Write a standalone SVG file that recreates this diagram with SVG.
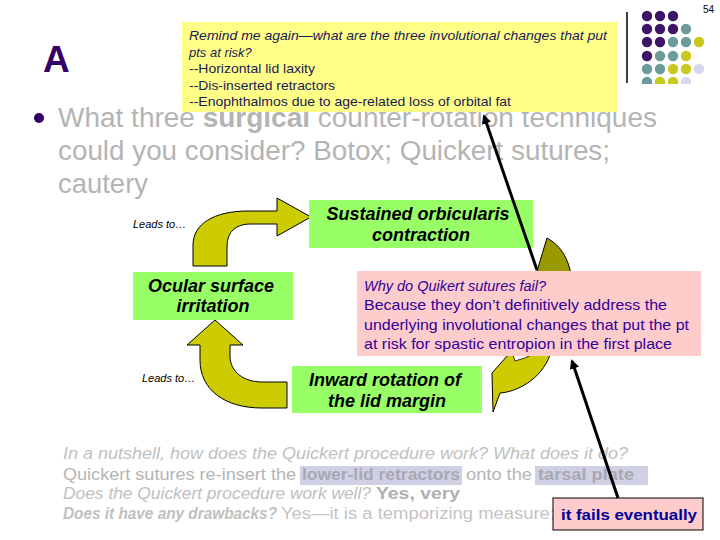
<svg xmlns="http://www.w3.org/2000/svg" width="720" height="540" viewBox="0 0 720 540">
<defs>
<style>
text{font-family:"Liberation Sans",Arial,sans-serif}
.gray{fill:#b4b4b4}
.yl{font-size:13px;fill:#1a1a55}
.pk{font-size:14.5px;fill:#330099}
.gn{font-size:18px;font-weight:bold;font-style:italic;fill:#000;text-anchor:middle}
.gbox{fill:#99ff66}
.olive{fill:#cccc00;stroke:#000;stroke-width:1}
.lead{font-size:11px;font-style:italic;fill:#000}
.bt{font-size:16px}
.conn{stroke:#000;stroke-width:3;fill:none;marker-end:url(#ah)}
</style>
<marker id="ah" viewBox="0 0 10 10" refX="8" refY="5" markerWidth="3.2" markerHeight="3.2" orient="auto">
<path d="M0,0 L10,5 L0,10 Z" fill="#000"/>
</marker>
<clipPath id="dotclip"><rect x="630" y="0" width="90" height="84"/></clipPath>
</defs>
<rect width="720" height="540" fill="#fff"/>

<g id="header">
<text x="43" y="72" font-size="37" font-weight="bold" fill="#330066">A</text>
<line x1="627" y1="12" x2="627" y2="83" stroke="#000" stroke-width="1.5"/>
<text x="703" y="13" font-size="10" fill="#000">54</text>
<g clip-path="url(#dotclip)">
<g fill="#3d1466">
<circle cx="647" cy="16" r="5.2"/><circle cx="660" cy="16" r="5.2"/><circle cx="673" cy="16" r="5.2"/>
<circle cx="647" cy="29" r="5.2"/><circle cx="660" cy="29" r="5.2"/><circle cx="673" cy="29" r="5.2"/>
<circle cx="647" cy="42" r="5.2"/><circle cx="660" cy="42" r="5.2"/>
<circle cx="647" cy="56" r="5.2"/>
</g>
<g fill="#6b9b9b">
<circle cx="686" cy="29" r="5.2"/>
<circle cx="673" cy="42" r="5.2"/><circle cx="686" cy="42" r="5.2"/>
<circle cx="660" cy="56" r="5.2"/><circle cx="673" cy="56" r="5.2"/>
<circle cx="647" cy="69" r="5.2"/><circle cx="660" cy="69" r="5.2"/>
<circle cx="647" cy="82" r="5.2"/>
</g>
<g fill="#c8c81e">
<circle cx="699" cy="42" r="5.2"/>
<circle cx="686" cy="56" r="5.2"/>
<circle cx="673" cy="69" r="5.2"/><circle cx="686" cy="69" r="5.2"/>
<circle cx="660" cy="82" r="5.2"/><circle cx="673" cy="82" r="5.2"/>
</g>
<g fill="#d8d8ec">
<circle cx="699" cy="69" r="5.2"/>
<circle cx="686" cy="82" r="5.2"/>
</g>
</g>
</g>

<g id="bullet">
<circle cx="39" cy="118" r="5" fill="#330066"/>
<text class="gray" font-size="27" x="58" y="127" textLength="599" lengthAdjust="spacingAndGlyphs">What three <tspan font-weight="bold">surgical</tspan> counter-rotation techniques</text>
<text class="gray" font-size="27" x="58" y="160" textLength="552" lengthAdjust="spacingAndGlyphs">could you consider? Botox; Quickert sutures;</text>
<text class="gray" font-size="27" x="58" y="193" textLength="90" lengthAdjust="spacingAndGlyphs">cautery</text>
</g>

<g id="note-yellow">
<rect x="182" y="22" width="436" height="90" fill="#ffff88"/>
<text class="yl" x="189" y="40" font-style="italic" textLength="418" lengthAdjust="spacingAndGlyphs">Remind me again—what are the three involutional changes that put</text>
<text class="yl" x="189" y="57" font-style="italic">pts at risk?</text>
<text class="yl" x="189" y="73" textLength="126" lengthAdjust="spacingAndGlyphs">--Horizontal lid laxity</text>
<text class="yl" x="189" y="90" textLength="146" lengthAdjust="spacingAndGlyphs">--Dis-inserted retractors</text>
<text class="yl" x="189" y="106" textLength="322" lengthAdjust="spacingAndGlyphs">--Enophthalmos due to age-related loss of orbital fat</text>
</g>

<g id="arrow-up-right">
<path class="olive" d="M193,266 L193,245 C193,224 214,211 248,211 L277,211 L277,198 L311,217 L277,236 L277,224 L250,224 C237,224 227,231 227,246 L227,266 Z"/>
<text class="lead" x="133" y="228">Leads to…</text>
</g>

<g id="arrow-up-left">
<path class="olive" d="M287,382 L262,382 C244,382 230,372 230,356 L230,345 L243,345 L215,320 L187,345 L200,345 L200,360 C200,390 225,408 262,408 L287,408 Z"/>
<text class="lead" x="142" y="382">Leads to…</text>
</g>

<g id="arrow-curved-right">
<path d="M537,290 L537,271 L547,238 C561,246 571,259 573,290 Z" fill="#999900" stroke="#000" stroke-width="1"/>
<path class="olive" d="M510,350 L508,355 L492,373 L493,412 L500,393 C516,392 541,380 550,355 L551,350 Z"/>
<path d="M513,355 L515,361 L525,358 L531,355 Z" fill="#fff" stroke="#000" stroke-width="0.8"/>
</g>

<g id="node-sustained">
<rect class="gbox" x="309" y="200" width="224" height="48"/>
<text class="gn" x="418" y="220">Sustained orbicularis</text>
<text class="gn" x="421" y="241">contraction</text>
</g>

<g id="node-ocular">
<rect class="gbox" x="133" y="272" width="160" height="48"/>
<text class="gn" x="211" y="292">Ocular surface</text>
<text class="gn" x="213" y="312">irritation</text>
</g>

<g id="node-inward">
<rect class="gbox" x="292" y="366" width="190" height="47"/>
<text class="gn" x="385" y="386">Inward rotation of</text>
<text class="gn" x="387" y="407">the lid margin</text>
</g>

<g id="note-pink">
<rect x="357" y="271" width="344" height="85" fill="#ffcccc"/>
<text class="pk" x="364" y="291" font-style="italic">Why do Quikert sutures fail?</text>
<text class="pk" x="364" y="310" textLength="303" lengthAdjust="spacingAndGlyphs">Because they don’t definitively address the</text>
<text class="pk" x="364" y="330" textLength="325" lengthAdjust="spacingAndGlyphs">underlying involutional changes that put the pt</text>
<text class="pk" x="364" y="349" textLength="308" lengthAdjust="spacingAndGlyphs">at risk for spastic entropion in the first place</text>
</g>

<g id="bottom-text">
<rect x="300" y="466" width="162" height="19" fill="#d0d0e4"/>
<rect x="535" y="466" width="113" height="19" fill="#d0d0e4"/>
<text class="bt" x="63" y="459" fill="#c0c0c0" font-style="italic" textLength="565" lengthAdjust="spacingAndGlyphs">In a nutshell, how does the Quickert procedure work? What does it do?</text>
<text class="bt" y="480" fill="#b4b4b4"><tspan x="63" textLength="233" lengthAdjust="spacingAndGlyphs">Quickert sutures re-insert the</tspan><tspan x="302" font-weight="bold" fill="#a8a8b4" textLength="158" lengthAdjust="spacingAndGlyphs">lower-lid retractors</tspan><tspan x="466" textLength="66" lengthAdjust="spacingAndGlyphs">onto the</tspan><tspan x="538" font-weight="bold" fill="#a8a8b4" textLength="96" lengthAdjust="spacingAndGlyphs">tarsal plate</tspan></text>
<text class="bt" y="499" fill="#c0c0c0"><tspan x="63" font-style="italic" textLength="308" lengthAdjust="spacingAndGlyphs">Does the Quickert procedure work well?</tspan><tspan x="376" font-weight="bold" fill="#b0b0b0" textLength="84" lengthAdjust="spacingAndGlyphs">Yes, very</tspan></text>
<text class="bt" y="519" fill="#c0c0c0"><tspan x="63" font-style="italic" font-weight="bold" textLength="214" lengthAdjust="spacingAndGlyphs">Does it have any drawbacks?</tspan><tspan x="281" fill="#c4c4c4" textLength="274" lengthAdjust="spacingAndGlyphs">Yes—it is a temporizing measure;</tspan></text>
</g>

<g id="node-fails">
<rect x="553" y="498" width="150" height="32" fill="#ffcccc" stroke="#000" stroke-width="1"/>
<text x="561" y="520" font-size="15" font-weight="bold" fill="#000099" textLength="136" lengthAdjust="spacingAndGlyphs">it fails eventually</text>
</g>

<g id="connectors">
<line class="conn" x1="537" y1="270" x2="484" y2="116"/>
<line class="conn" x1="618" y1="498" x2="572" y2="361"/>
</g>
</svg>
